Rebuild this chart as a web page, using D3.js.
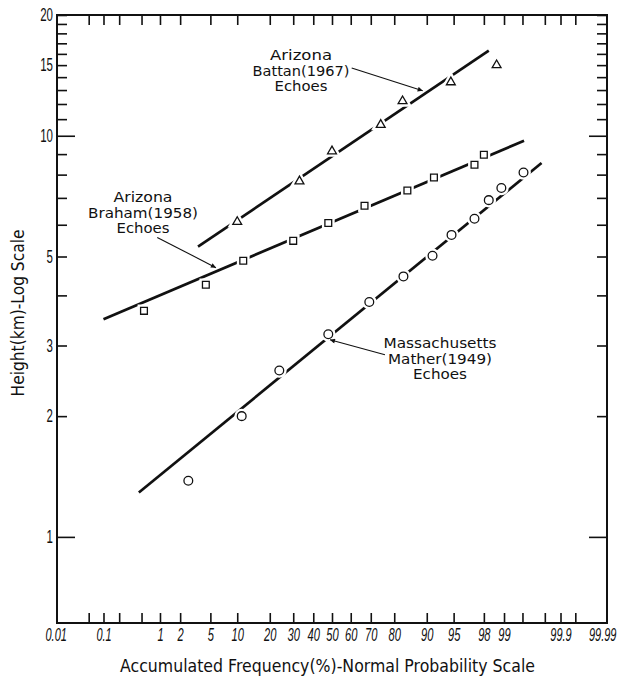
<!DOCTYPE html>
<html>
<head>
<meta charset="utf-8">
<script src="https://cdn.jsdelivr.net/npm/d3@7/dist/d3.min.js"></script>
<style>
  html, body { margin: 0; padding: 0; background: #fff; }
  svg { display: block; }
</style>
</head>
<body>
<svg id="chart" width="632" height="677"></svg>
<script>
// Echo-top heights plotted on a log height axis against a normal-probability frequency axis.

// ---- data: accumulated frequency (%) and echo height (km) ----
const battanP = [10, 33, 50, 74.5, 83, 94.6, 98.7];
const battanH = [6.1, 7.7, 9.15, 10.65, 12.2, 13.6, 15.0];

const brahamP = [0.55, 4.4, 11.5, 30, 48, 67, 84.6, 91.6, 97.3, 98.0];
const brahamH = [3.66, 4.25, 4.88, 5.47, 6.06, 6.69, 7.30, 7.87, 8.47, 8.97];

const matherP = [2.6, 11.1, 23.8, 48, 69.3, 83.3, 91.3, 94.7, 97.3, 98.3, 98.9, 99.52];
const matherH = [1.38, 2.00, 2.60, 3.20, 3.85, 4.46, 5.02, 5.66, 6.21, 6.91, 7.41, 8.10];

// fitted lines (end points)
const battanFitP = [3.5, 98.3];
const battanFitH = [5.29, 16.3];
const brahamFitP = [0.1, 99.53];
const brahamFitH = [3.49, 9.72];
const matherFitP = [0.45, 99.77];
const matherFitH = [1.29, 8.55];

// ---- axis ticks ----
const xTickP      = [0.01, 0.05, 0.1, 0.2, 0.5, 1, 2, 5, 10, 20, 30, 40, 50, 60, 70, 80, 90, 95, 98, 99, 99.5, 99.8, 99.9, 99.95, 99.99];
const xTickLabels = ["0.01", "", "0.1", "", "", "1", "2", "5", "10", "20", "30", "40", "50", "60", "70", "80", "90", "95", "98", "99", "", "", "99.9", "", "99.99"];
const yMinorTicks = [2, 3, 4, 5, 6, 7, 8, 9, 11, 12, 13, 14, 15, 16, 17, 18, 19, 20];
const yMajorTicks = [1, 10];
const yTickLabels = [1, 2, 3, 5, 10, 15, 20];

// ---- layout ----
const frame = { left: 57, right: 607, top: 15, bottom: 623 };
const textFont = "'DejaVu Sans', sans-serif";
const numFont = "'Liberation Sans', sans-serif";

// narrow hand-lettered numerals: fixed advance per digit, less for the point
const numWidth = s => s.replace(/\./g, "").length * 6.2 + (s.split(".").length - 1) * 2.8;

// inverse standard normal CDF (Acklam's rational approximation)
function probit(p) {
  const a = [-3.969683028665376e+01, 2.209460984245205e+02, -2.759285104469687e+02,
              1.383577518672690e+02, -3.066479806614716e+01, 2.506628277459239e+00];
  const b = [-5.447609879822406e+01, 1.615858368580409e+02, -1.556989798598866e+02,
              6.680131188771972e+01, -1.328068155288572e+01];
  const c = [-7.784894002430293e-03, -3.223964580411365e-01, -2.400758277161838e+00,
             -2.549732539343734e+00, 4.374664141464968e+00, 2.938163982698783e+00];
  const d = [7.784695709041462e-03, 3.224671290700398e-01, 2.445134137142996e+00,
             3.754408661907416e+00];
  const pl = 0.02425, ph = 1 - pl;
  let q, r;
  if (p < pl) {
    q = Math.sqrt(-2 * Math.log(p));
    return (((((c[0]*q+c[1])*q+c[2])*q+c[3])*q+c[4])*q+c[5]) / ((((d[0]*q+d[1])*q+d[2])*q+d[3])*q+1);
  } else if (p <= ph) {
    q = p - 0.5; r = q * q;
    return (((((a[0]*r+a[1])*r+a[2])*r+a[3])*r+a[4])*r+a[5])*q / (((((b[0]*r+b[1])*r+b[2])*r+b[3])*r+b[4])*r+1);
  } else {
    q = Math.sqrt(-2 * Math.log(1 - p));
    return -(((((c[0]*q+c[1])*q+c[2])*q+c[3])*q+c[4])*q+c[5]) / ((((d[0]*q+d[1])*q+d[2])*q+d[3])*q+1);
  }
}

const svg = d3.select("#chart");

// scales: x is linear in the normal deviate z, y is logarithmic
const zScale = d3.scaleLinear()
  .domain([probit(0.0001), probit(0.9999)])
  .range([frame.left, frame.right]);
const x = p => zScale(probit(p / 100));
const y = d3.scaleLog().domain([0.61, 20]).range([frame.bottom, frame.top]);

const zip = (ps, hs) => ps.map((p, i) => ({ p, h: hs[i] }));

// ---- axes ----
const xTickZ = xTickP.map(p => probit(p / 100));
const xFmt = d => xTickLabels[xTickZ.indexOf(d)];
const lastZ = xTickZ[xTickZ.length - 1];
const firstZ = xTickZ[0];

function styleAxis(g) {
  g.select(".domain").remove();
  g.selectAll(".tick line").attr("stroke", "#111").attr("stroke-width", 1.6);
}

svg.append("g")
  .attr("transform", `translate(0,${frame.bottom})`)
  .call(d3.axisBottom(zScale).tickValues(xTickZ.slice(1, -1)).tickSize(-10).tickFormat(() => ""))
  .call(styleAxis);

const xLab = svg.append("g")
  .attr("transform", `translate(0,${frame.bottom})`)
  .call(d3.axisBottom(zScale).tickValues(xTickZ.filter((z, i) => xTickLabels[i] !== ""))
    .tickSize(0).tickPadding(5).tickFormat(xFmt))
  .call(styleAxis);
xLab.selectAll("text")
  .attr("font-family", numFont)
  .attr("font-style", "italic")
  .attr("font-size", 18)
  .attr("textLength", function () { return numWidth(this.textContent); })
  .attr("lengthAdjust", "spacingAndGlyphs")
  .attr("fill", "#111");
// end labels sit flush with the frame corners
xLab.selectAll(".tick").filter(d => d === firstZ).select("text")
  .attr("text-anchor", "start").attr("x", -12);
xLab.selectAll(".tick").filter(d => d === lastZ).select("text")
  .attr("text-anchor", "end").attr("x", 9);

svg.append("g")
  .attr("transform", `translate(0,${frame.top})`)
  .call(d3.axisTop(zScale).tickValues(xTickZ.slice(1, -1)).tickSize(-10).tickFormat(() => ""))
  .call(styleAxis);

[[d3.axisLeft, frame.left], [d3.axisRight, frame.right]].forEach(([axisFn, pos]) => {
  svg.append("g")
    .attr("transform", `translate(${pos},0)`)
    .call(axisFn(y).tickValues(yMinorTicks).tickSize(-10).tickFormat(() => ""))
    .call(styleAxis);
  svg.append("g")
    .attr("transform", `translate(${pos},0)`)
    .call(axisFn(y).tickValues(yMajorTicks).tickSize(-18).tickFormat(() => ""))
    .call(styleAxis);
});

svg.append("g")
  .attr("transform", `translate(${frame.left},0)`)
  .call(d3.axisLeft(y).tickValues(yTickLabels).tickSize(0).tickPadding(4).tickFormat(d3.format("d")))
  .call(styleAxis)
  .selectAll("text")
  .attr("font-family", numFont)
  .attr("font-size", 18)
  .attr("textLength", function () { return this.textContent.length * 6.4; })
  .attr("lengthAdjust", "spacingAndGlyphs")
  .attr("fill", "#111");

// plot frame
svg.append("rect")
  .attr("x", frame.left).attr("y", frame.top)
  .attr("width", frame.right - frame.left).attr("height", frame.bottom - frame.top)
  .attr("fill", "none").attr("stroke", "#111").attr("stroke-width", 2);

// axis titles
svg.append("text")
  .attr("x", 327.5).attr("y", 672)
  .attr("text-anchor", "middle")
  .attr("font-family", textFont).attr("font-size", 17)
  .attr("textLength", 415).attr("lengthAdjust", "spacingAndGlyphs")
  .attr("fill", "#111")
  .text("Accumulated Frequency(%)-Normal Probability Scale");

svg.append("text")
  .attr("transform", "translate(24,313) rotate(-90)")
  .attr("text-anchor", "middle")
  .attr("font-family", textFont).attr("font-size", 17)
  .attr("textLength", 167).attr("lengthAdjust", "spacingAndGlyphs")
  .attr("fill", "#111")
  .text("Height(km)-Log Scale");

// ---- fitted lines ----
const line = d3.line().x(d => x(d.p)).y(d => y(d.h));
[[battanFitP, battanFitH], [brahamFitP, brahamFitH], [matherFitP, matherFitH]].forEach(([ps, hs]) => {
  svg.append("path")
    .datum(zip(ps, hs))
    .attr("d", line)
    .attr("fill", "none")
    .attr("stroke", "#111")
    .attr("stroke-width", 2.7);
});

// ---- markers (white halo breaks the fitted line around each point) ----
const triangle = d3.symbol().type(d3.symbolTriangle).size(34);
const square = d3.symbol().type(d3.symbolSquare).size(46);
const circle = d3.symbol().type(d3.symbolCircle).size(60);

function drawMarkers(ps, hs, sym) {
  const g = svg.append("g");
  const pts = zip(ps, hs);
  g.selectAll("path.halo").data(pts).join("path")
    .attr("class", "halo")
    .attr("transform", d => `translate(${x(d.p)},${y(d.h)})`)
    .attr("d", sym)
    .attr("fill", "#fff").attr("stroke", "#fff").attr("stroke-width", 6);
  g.selectAll("path.mark").data(pts).join("path")
    .attr("class", "mark")
    .attr("transform", d => `translate(${x(d.p)},${y(d.h)})`)
    .attr("d", sym)
    .attr("fill", "#fff").attr("stroke", "#111").attr("stroke-width", 1.3);
}
drawMarkers(battanP, battanH, triangle);
drawMarkers(brahamP, brahamH, square);
drawMarkers(matherP, matherH, circle);

// ---- annotations ----
svg.append("defs").append("marker")
  .attr("id", "arrowhead")
  .attr("viewBox", "0 0 10 10").attr("refX", 10).attr("refY", 5)
  .attr("markerWidth", 7).attr("markerHeight", 5)
  .attr("markerUnits", "userSpaceOnUse")
  .attr("orient", "auto")
  .append("path").attr("d", "M0,0L10,5L0,10Z").attr("fill", "#111");

const notes = [
  { cx: 301, y0: 60, lines: ["Arizona", "Battan(1967)", "Echoes"], widths: [62, 97, 53],
    from: { p: 60.5, h: 14.75 }, to: { p: 89, h: 12.95 } },
  { cx: 143, y0: 202, lines: ["Arizona", "Braham(1958)", "Echoes"], widths: [59, 110, 53],
    from: { p: 0.906, h: 5.58 }, to: { p: 5.83, h: 4.69 } },
  { cx: 440, y0: 348, lines: ["Massachusetts", "Mather(1949)", "Echoes"], widths: [113, 104, 54],
    from: { p: 76.3, h: 2.844 }, to: { p: 48.9, h: 3.10 } }
];

notes.forEach(n => {
  n.lines.forEach((t, i) => {
    svg.append("text")
      .attr("x", n.cx).attr("y", n.y0 + i * 15.7)
      .attr("text-anchor", "middle")
      .attr("font-family", textFont).attr("font-size", 13.3)
      .attr("textLength", n.widths[i]).attr("lengthAdjust", "spacingAndGlyphs")
      .attr("fill", "#111")
      .text(t);
  });
  svg.append("line")
    .attr("x1", x(n.from.p)).attr("y1", y(n.from.h))
    .attr("x2", x(n.to.p)).attr("y2", y(n.to.h))
    .attr("stroke", "#111").attr("stroke-width", 1.1)
    .attr("marker-end", "url(#arrowhead)");
});
</script>
</body>
</html>
